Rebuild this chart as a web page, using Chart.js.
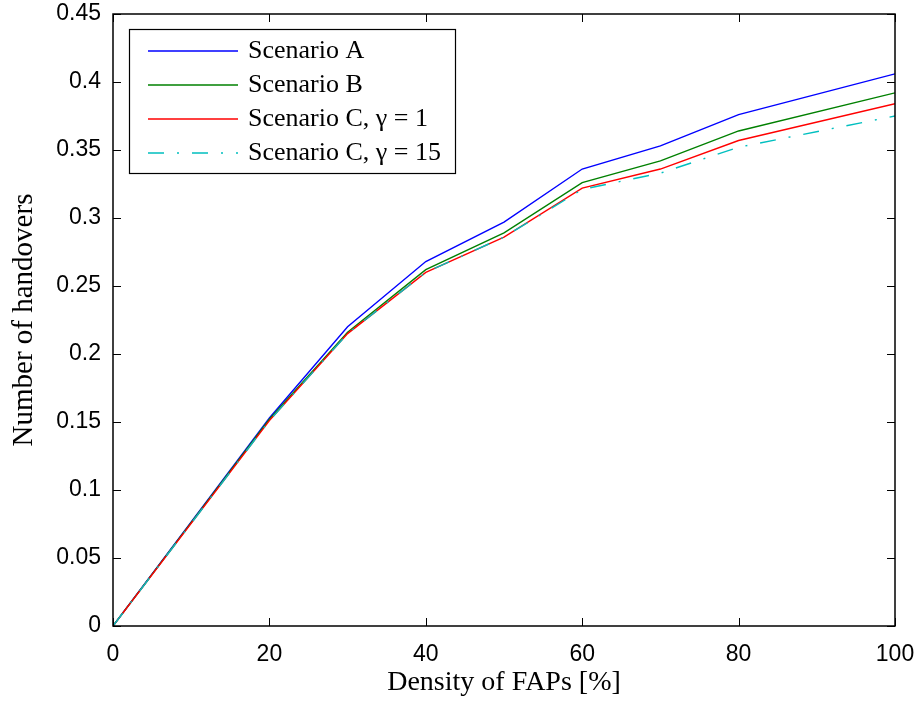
<!DOCTYPE html>
<html>
<head>
<meta charset="utf-8">
<script src="https://cdn.jsdelivr.net/npm/chart.js@4.4.1/dist/chart.umd.min.js"></script>
<style>
  html, body { margin: 0; padding: 0; background: #fff; }
  #wrap { width: 921px; height: 704px; }
</style>
</head>
<body>
<div id="wrap"><canvas id="handover_chart" width="921" height="704"></canvas></div>
<script>
// density of FAPs [%]
var density = [0, 20, 30, 40, 50, 60, 70, 80, 100]
var scenarioA = [0, 0.153, 0.220, 0.268, 0.297, 0.336, 0.353, 0.376, 0.406]
var scenarioB = [0, 0.152, 0.216, 0.262, 0.289, 0.326, 0.342, 0.364, 0.392]
var scenarioC1 = [0, 0.151, 0.215, 0.260, 0.286, 0.322, 0.336, 0.357, 0.384]
var scenarioC15 = [0, 0.151, 0.215, 0.260, 0.286, 0.321, 0.333, 0.352, 0.375]
var seriesNames = ['Scenario A', 'Scenario B', 'Scenario C, \u03b3 = 1', 'Scenario C, \u03b3 = 15']
var xTicks = [0, 20, 40, 60, 80, 100]
var yTicks = [0, 0.05, 0.1, 0.15, 0.2, 0.25, 0.3, 0.35, 0.4, 0.45]

var serif = "'Liberation Serif', 'Times New Roman', serif"
var sans = "'Liberation Sans', Arial, Helvetica, sans-serif"

function pts(ys) {
    return density.map(function (x, i) { return {x: x, y: ys[i]} })
}

var colors = ['#0000ff', '#008000', '#ff0000', '#00bfbf']
var dashes = [[], [], [], [16, 13, 2, 13]]
var values = [scenarioA, scenarioB, scenarioC1, scenarioC15]

var ds = []
for (var i = 0; i < values.length; i++) {
    ds.push({
        label: seriesNames[i],
        data: pts(values[i]),
        borderColor: colors[i],
        backgroundColor: colors[i],
        borderWidth: 1.4,
        borderDash: dashes[i],
        pointRadius: 0,
        tension: 0,
        order: values.length - i   // later series drawn on top
    })
}

// matlab style box with inward ticks + boxed legend
const matlabFrame = {
    id: 'matlabFrame',
    afterDatasetsDraw(chart) {
        const ctx = chart.ctx
        const a = chart.chartArea
        const xs = chart.scales.x, ys = chart.scales.y
        const tl = 8
        ctx.save()
        ctx.strokeStyle = '#000'
        ctx.lineWidth = 1.5
        ctx.strokeRect(a.left, a.top, a.right - a.left, a.bottom - a.top)
        ctx.lineWidth = 1
        ctx.beginPath()
        xTicks.forEach(function (v) {
            const px = Math.round(xs.getPixelForValue(v)) + 0.5
            ctx.moveTo(px, a.bottom); ctx.lineTo(px, a.bottom - tl)
            ctx.moveTo(px, a.top); ctx.lineTo(px, a.top + tl)
        })
        yTicks.forEach(function (v) {
            const py = Math.round(ys.getPixelForValue(v)) + 0.5
            ctx.moveTo(a.left, py); ctx.lineTo(a.left + tl, py)
            ctx.moveTo(a.right, py); ctx.lineTo(a.right - tl, py)
        })
        ctx.stroke()
        ctx.restore()
    },
    afterDraw(chart) {
        const ctx = chart.ctx
        const a = chart.chartArea
        const bx = a.left + 16, by = a.top + 15, bw = 326, bh = 144
        ctx.save()
        ctx.fillStyle = '#fff'
        ctx.fillRect(bx, by, bw, bh)
        ctx.strokeStyle = '#000'
        ctx.lineWidth = 1.2
        ctx.strokeRect(bx + 0.5, by + 0.5, bw, bh)
        ctx.font = '26px ' + serif
        ctx.textBaseline = 'middle'
        ctx.fillStyle = '#000'
        chart.data.datasets.forEach(function (d, k) {
            const y = by + 22 + k * 34
            ctx.strokeStyle = d.borderColor
            ctx.lineWidth = 1.4
            ctx.setLineDash(d.borderDash)
            ctx.beginPath()
            ctx.moveTo(bx + 19, y); ctx.lineTo(bx + 109, y)
            ctx.stroke()
            ctx.setLineDash([])
            ctx.fillText(d.label, bx + 119, y)
        })
        ctx.restore()
    }
}

var ctx = document.getElementById('handover_chart')
const config = {
    type: 'line',
    data: {datasets: ds},
    options: {
        responsive: false,
        animation: false,
        layout: {padding: {top: 14, right: 26, left: 0, bottom: 0}},
        plugins: {
            legend: {display: false},
            tooltip: {enabled: false}
        },
        scales: {
            x: {
                type: 'linear',
                min: 0, max: 100,
                afterFit: function (s) { s.height = 78; s.paddingLeft = 0; s.paddingRight = 0 },
                afterBuildTicks: function (s) { s.ticks = xTicks.map(function (v) { return {value: v} }) },
                grid: {display: false, drawTicks: false},
                border: {display: false},
                ticks: {
                    color: '#000', padding: 15, maxRotation: 0,
                    font: {family: sans, size: 23},
                    callback: function (v) { return String(v) }
                },
                title: {
                    display: true, text: 'Density of FAPs [%]', color: '#000',
                    font: {family: serif, size: 28}, padding: {top: 0, bottom: 5}
                }
            },
            y: {
                type: 'linear',
                min: 0, max: 0.45,
                afterFit: function (s) { s.width = 113; s.paddingTop = 0; s.paddingBottom = 0 },
                afterBuildTicks: function (s) { s.ticks = yTicks.map(function (v) { return {value: v} }) },
                grid: {display: false, drawTicks: false},
                border: {display: false},
                ticks: {
                    color: '#000', padding: 12,
                    font: {family: sans, size: 23},
                    callback: function (v) { return String(Math.round(v * 100) / 100) }
                },
                title: {
                    display: true, text: 'Number of handovers', color: '#000',
                    font: {family: serif, size: 29}, padding: {top: 7, bottom: 0}
                }
            }
        }
    },
    plugins: [matlabFrame]
}

var myChart = new Chart(ctx, config)
</script>
</body>
</html>
